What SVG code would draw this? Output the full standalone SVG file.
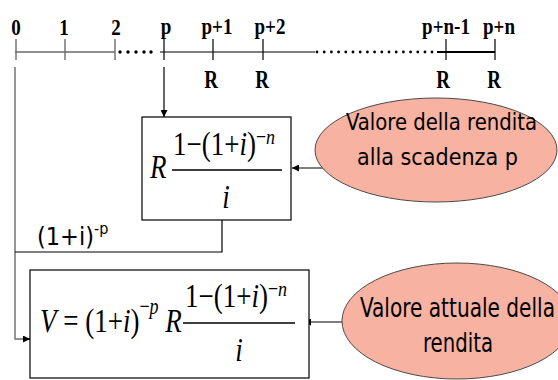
<svg xmlns="http://www.w3.org/2000/svg" width="558" height="380" viewBox="0 0 558 380">
  <defs>
    <style>
      .tl { font-family: "Liberation Serif", "Times New Roman", serif; font-weight: bold; font-size: 19px; text-anchor: middle; }
      .math { font-family: "Liberation Serif", "Times New Roman", serif; font-size: 27px; }
      .it { font-style: italic; }
      .sans { font-family: "DejaVu Sans Condensed", "DejaVu Sans", sans-serif; font-stretch: condensed; }
      .box { fill: #ffffff; stroke: #000000; stroke-width: 1.2; }
      .ell { fill: #F7B2A2; stroke: #4a4a4a; stroke-width: 1; }
      .ln { fill: none; stroke: #000000; stroke-width: 1.2; }
      .gray { fill: none; stroke: #6b6b6b; stroke-width: 1.4; }
      .dot { fill: #000000; }
    </style>
    <marker id="arr" viewBox="0 0 10 10" refX="10" refY="5" markerWidth="7" markerHeight="7" markerUnits="userSpaceOnUse" orient="auto">
      <path d="M0,0 L10,5 L0,10 z" fill="#000000"/>
    </marker>
  </defs>

  <!-- time axis -->
  <g id="axis">
    <line class="gray" x1="15" y1="52" x2="115" y2="52"/>
    <line class="ln" x1="160" y1="52" x2="315" y2="52"/>
    <line x1="437" y1="52" x2="495" y2="52" stroke="#000" stroke-width="2.2"/>
    <g class="gray">
      <line x1="16" y1="39" x2="16" y2="60"/>
      <line x1="65" y1="39" x2="65" y2="60"/>
      <line x1="115" y1="39" x2="115" y2="60"/>
    </g>
    <g class="ln">
      <line x1="164" y1="39" x2="164" y2="60"/>
      <line x1="213" y1="39" x2="213" y2="60"/>
      <line x1="263" y1="39" x2="263" y2="60"/>
      <line x1="446" y1="39" x2="446" y2="60"/>
      <line x1="495" y1="39" x2="495" y2="60"/>
    </g>
    <g class="dot">
      <circle cx="120" cy="52" r="1.7"/><circle cx="128" cy="52" r="1.7"/><circle cx="136" cy="52" r="1.7"/><circle cx="144" cy="52" r="1.7"/><circle cx="151" cy="52" r="1.7"/>
      <circle cx="317" cy="52" r="1.4"/><circle cx="324.2" cy="52" r="1.4"/><circle cx="331.4" cy="52" r="1.4"/><circle cx="338.6" cy="52" r="1.4"/><circle cx="345.8" cy="52" r="1.4"/><circle cx="353" cy="52" r="1.4"/><circle cx="360.2" cy="52" r="1.4"/><circle cx="367.4" cy="52" r="1.4"/><circle cx="374.6" cy="52" r="1.4"/><circle cx="381.8" cy="52" r="1.4"/><circle cx="389" cy="52" r="1.4"/><circle cx="396.2" cy="52" r="1.4"/><circle cx="403.4" cy="52" r="1.4"/><circle cx="410.6" cy="52" r="1.4"/><circle cx="417.8" cy="52" r="1.4"/><circle cx="425" cy="52" r="1.4"/><circle cx="432" cy="52" r="1.4"/>
    </g>
    <text class="tl" transform="translate(16,35) scale(1,1.25)">0</text>
    <text class="tl" transform="translate(64,35) scale(1,1.25)">1</text>
    <text class="tl" transform="translate(116,35) scale(1,1.25)">2</text>
    <text class="tl" transform="translate(166,34) scale(1,1.25)">p</text>
    <text class="tl" transform="translate(217,34) scale(1,1.25)">p+1</text>
    <text class="tl" transform="translate(270,34) scale(1,1.25)">p+2</text>
    <text class="tl" transform="translate(446,34) scale(1,1.25)">p+n-1</text>
    <text class="tl" transform="translate(499,34) scale(1,1.25)">p+n</text>
    <text class="tl" transform="translate(211,88) scale(1,1.3)">R</text>
    <text class="tl" transform="translate(262,88) scale(1,1.3)">R</text>
    <text class="tl" transform="translate(443,88) scale(1,1.3)">R</text>
    <text class="tl" transform="translate(494,88) scale(1,1.3)">R</text>
  </g>

  <!-- connectors -->
  <g id="connectors">
    <line class="ln" x1="164" y1="67" x2="164" y2="117" marker-end="url(#arr)"/>
    <polyline class="gray" points="15,67 15,339 30,339" />
    <line class="ln" x1="24" y1="339" x2="30" y2="339" marker-end="url(#arr)"/>
    <polyline class="ln" points="222,220 222,252 15,252"/>
    <line class="ln" x1="333" y1="168" x2="292" y2="168" marker-end="url(#arr)"/>
    <line class="ln" x1="342" y1="322" x2="304" y2="322" marker-end="url(#arr)"/>
  </g>

  <text class="sans" font-size="25" x="37" y="245">(1+i)<tspan font-size="16" dy="-11">-p</tspan></text>

  <!-- annuity value at time p -->
  <g id="value-at-p">
    <rect class="box" x="142" y="117" width="149" height="103"/>
    <text class="math it" transform="translate(150,178) scale(1,1.22)">R</text>
    <text class="math" transform="translate(173,155) scale(1,1.22)">1−(1+<tspan class="it">i</tspan>)<tspan font-size="18" dy="-9">−<tspan class="it">n</tspan></tspan></text>
    <line x1="172" y1="170" x2="282" y2="170" stroke="#000" stroke-width="1.5"/>
    <text class="math it" text-anchor="middle" transform="translate(226,208) scale(1,1.22)">i</text>
  </g>

  <!-- present value -->
  <g id="present-value">
    <rect class="box" x="30" y="270" width="279" height="108"/>
    <text class="math" transform="translate(40,332) scale(1,1.27)"><tspan class="it">V</tspan> = (1+<tspan class="it">i</tspan>)<tspan font-size="18" dy="-14">−<tspan class="it">p</tspan></tspan><tspan dy="14"> </tspan><tspan class="it">R</tspan></text>
    <text class="math" transform="translate(185,307) scale(1,1.22)">1−(1+<tspan class="it">i</tspan>)<tspan font-size="18" dy="-9">−<tspan class="it">n</tspan></tspan></text>
    <line x1="183" y1="323" x2="295" y2="323" stroke="#000" stroke-width="1.5"/>
    <text class="math it" text-anchor="middle" transform="translate(239,361) scale(1,1.22)">i</text>
  </g>

  <!-- callouts -->
  <g id="callout-p">
    <ellipse class="ell" cx="436" cy="150" rx="121" ry="52"/>
    <text class="sans" font-size="23" x="346" y="130" textLength="191" lengthAdjust="spacingAndGlyphs">Valore della rendita</text>
    <text class="sans" font-size="23" x="357" y="165" textLength="161" lengthAdjust="spacingAndGlyphs">alla scadenza p</text>
  </g>
  <g id="callout-present">
    <ellipse class="ell" cx="457" cy="321" rx="115" ry="58"/>
    <text class="sans" font-size="26" x="360" y="317" textLength="195" lengthAdjust="spacingAndGlyphs">Valore attuale della</text>
    <text class="sans" font-size="26" x="423" y="352" textLength="70" lengthAdjust="spacingAndGlyphs">rendita</text>
  </g>
</svg>
